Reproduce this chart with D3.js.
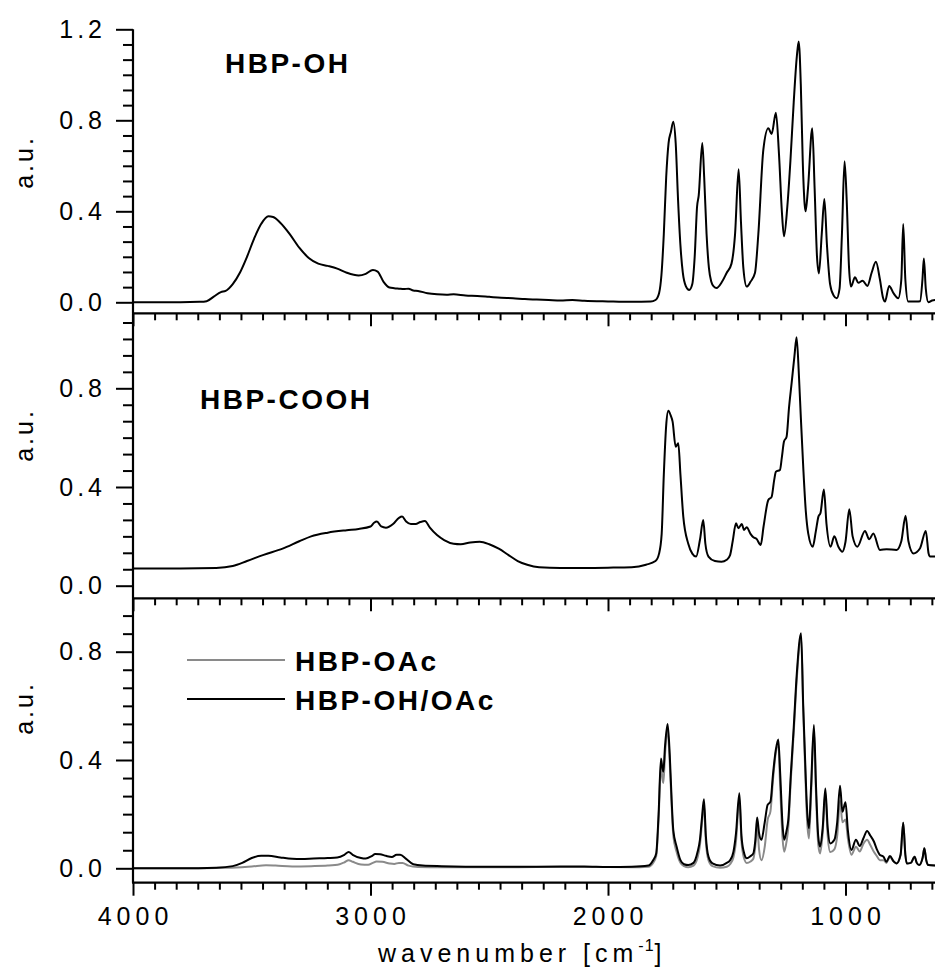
<!DOCTYPE html>
<html>
<head>
<meta charset="utf-8">
<script src="https://cdn.jsdelivr.net/npm/d3@7"></script>
<style>
  html, body { margin: 0; padding: 0; background: #fff; }
  svg { display: block; }
</style>
</head>
<body>
<svg id="chart" width="935" height="976"></svg>
<script>
// ---------------- DATA ----------------
// x-axis ticks
const xMajorTicks = [4000, 3000, 2000, 1000];
const xTickLabels = ["4000", "3000", "2000", "1000"];
// y ticks per panel
const yTicksTop = [0.0, 0.4, 0.8, 1.2];
const yTicksMid = [0.0, 0.4, 0.8];
const yTicksBot = [0.0, 0.4, 0.8];

const panelLabels = ["HBP-OH", "HBP-COOH"];
const legendLabels = ["HBP-OAc", "HBP-OH/OAc"];

// [wavenumber, absorbance]
const hbpOH = [
  [4000,0.0],[3900,0.0],[3800,0.0],[3720,0.002],[3690,0.005],[3660,0.025],[3630,0.045],[3610,0.05],
  [3580,0.08],[3550,0.13],[3520,0.2],[3490,0.28],[3460,0.345],[3430,0.378],[3410,0.375],[3380,0.35],
  [3340,0.3],[3300,0.24],[3260,0.195],[3220,0.17],[3180,0.16],[3140,0.148],[3100,0.13],[3050,0.118],
  [3020,0.125],[2990,0.142],[2970,0.135],[2945,0.09],[2920,0.065],[2900,0.062],[2880,0.06],[2860,0.058],
  [2840,0.06],[2820,0.052],[2800,0.05],[2760,0.04],[2720,0.035],[2680,0.033],[2650,0.035],[2600,0.03],
  [2550,0.028],[2500,0.024],[2450,0.02],[2400,0.018],[2350,0.014],[2300,0.012],[2250,0.01],[2200,0.008],
  [2150,0.01],[2100,0.007],[2000,0.004],[1900,0.002],[1820,0.003],[1800,0.01],[1785,0.04],[1775,0.12],
  [1765,0.3],[1755,0.55],[1745,0.7],[1735,0.75],[1725,0.794],[1715,0.7],[1705,0.45],[1695,0.25],
  [1685,0.13],[1672,0.07],[1658,0.054],[1645,0.08],[1635,0.2],[1625,0.42],[1618,0.47],[1603,0.70],
  [1595,0.55],[1585,0.3],[1575,0.15],[1565,0.09],[1555,0.07],[1543,0.063],[1520,0.09],[1500,0.13],
  [1480,0.17],[1465,0.3],[1450,0.585],[1440,0.35],[1430,0.15],[1416,0.069],[1400,0.09],[1381,0.13],
  [1367,0.30],[1346,0.67],[1325,0.765],[1311,0.74],[1293,0.833],[1280,0.65],[1268,0.4],[1259,0.29],
  [1245,0.42],[1232,0.62],[1218,0.88],[1205,1.08],[1197,1.146],[1188,0.95],[1180,0.62],[1172,0.43],
  [1168,0.40],[1158,0.5],[1140,0.765],[1130,0.5],[1120,0.2],[1112,0.127],[1100,0.3],[1089,0.454],
  [1078,0.25],[1065,0.08],[1050,0.03],[1037,0.018],[1025,0.06],[1015,0.3],[1004,0.62],[995,0.45],
  [985,0.15],[977,0.069],[960,0.11],[946,0.086],[928,0.095],[908,0.072],[890,0.13],[872,0.178],
  [855,0.1],[842,0.02],[834,0.003],[816,0.072],[798,0.04],[778,0.018],[765,0.1],[757,0.344],
  [748,0.1],[736,0.003],[700,0.003],[686,0.005],[676,0.1],[670,0.193],[662,0.06],[651,0.0],
  [635,0.008],[620,0.01]
];

const hbpCOOH = [
  [4000,0.07],[3800,0.07],[3650,0.072],[3580,0.08],[3520,0.1],[3450,0.125],[3370,0.15],[3300,0.18],
  [3250,0.2],[3180,0.215],[3100,0.225],[3050,0.23],[3000,0.24],[2985,0.255],[2973,0.26],[2955,0.24],
  [2935,0.235],[2905,0.25],[2880,0.275],[2867,0.28],[2850,0.26],[2830,0.25],[2810,0.25],[2790,0.258],
  [2771,0.262],[2750,0.235],[2720,0.205],[2690,0.185],[2650,0.17],[2620,0.168],[2580,0.175],[2540,0.178],
  [2500,0.168],[2460,0.15],[2420,0.125],[2380,0.1],[2340,0.085],[2290,0.075],[2200,0.072],[2100,0.072],
  [2000,0.073],[1900,0.075],[1840,0.085],[1800,0.1],[1785,0.13],[1774,0.21],[1765,0.45],[1755,0.65],
  [1746,0.709],[1736,0.69],[1728,0.665],[1715,0.563],[1704,0.577],[1695,0.45],[1683,0.28],[1662,0.17],
  [1645,0.13],[1629,0.118],[1613,0.185],[1599,0.266],[1590,0.17],[1577,0.118],[1550,0.1],[1522,0.097],
  [1500,0.105],[1486,0.124],[1475,0.18],[1461,0.253],[1451,0.233],[1437,0.25],[1427,0.226],[1416,0.237],
  [1400,0.21],[1388,0.196],[1375,0.19],[1357,0.165],[1345,0.24],[1325,0.347],[1311,0.36],[1300,0.43],
  [1293,0.462],[1276,0.469],[1268,0.52],[1259,0.584],[1248,0.604],[1238,0.72],[1227,0.82],[1215,0.93],
  [1206,1.007],[1196,0.85],[1188,0.68],[1178,0.482],[1167,0.3],[1157,0.212],[1138,0.158],[1125,0.22],
  [1114,0.28],[1105,0.296],[1091,0.39],[1080,0.25],[1063,0.158],[1047,0.2],[1030,0.158],[1013,0.138],
  [1000,0.178],[984,0.31],[970,0.2],[950,0.158],[918,0.222],[900,0.188],[883,0.212],[855,0.145],
  [827,0.148],[785,0.145],[765,0.18],[747,0.283],[735,0.18],[714,0.131],[686,0.152],[662,0.222],
  [650,0.13],[644,0.118],[620,0.118]
];

const hbpOHOAc = [
  [4000,0.0],[3800,0.0],[3650,0.002],[3580,0.008],[3540,0.02],[3500,0.038],[3460,0.046],[3430,0.046],
  [3380,0.04],[3330,0.035],[3290,0.034],[3240,0.036],[3180,0.038],[3140,0.04],[3110,0.05],[3092,0.06],
  [3075,0.05],[3040,0.038],[3020,0.036],[2995,0.045],[2980,0.053],[2960,0.052],[2935,0.046],[2910,0.042],
  [2890,0.05],[2875,0.05],[2850,0.035],[2820,0.015],[2780,0.01],[2700,0.008],[2500,0.006],[2300,0.006],
  [2100,0.007],[2000,0.005],[1900,0.006],[1830,0.01],[1810,0.03],[1797,0.055],[1787,0.2],[1777,0.406],
  [1771,0.37],[1767,0.357],[1760,0.45],[1749,0.533],[1740,0.42],[1732,0.252],[1725,0.14],[1711,0.08],
  [1695,0.03],[1680,0.015],[1662,0.012],[1640,0.02],[1623,0.06],[1613,0.105],[1605,0.18],[1596,0.255],
  [1588,0.12],[1577,0.043],[1560,0.018],[1528,0.01],[1500,0.02],[1486,0.03],[1472,0.06],[1461,0.13],
  [1447,0.277],[1438,0.12],[1428,0.06],[1416,0.037],[1400,0.045],[1388,0.055],[1380,0.1],[1372,0.188],
  [1364,0.13],[1354,0.105],[1340,0.17],[1328,0.234],[1316,0.246],[1305,0.35],[1293,0.44],[1283,0.476],
  [1275,0.35],[1265,0.16],[1258,0.105],[1248,0.14],[1241,0.178],[1230,0.35],[1218,0.52],[1205,0.72],
  [1187,0.868],[1178,0.6],[1170,0.4],[1162,0.22],[1154,0.148],[1145,0.3],[1133,0.529],[1124,0.3],
  [1115,0.12],[1107,0.08],[1096,0.15],[1085,0.295],[1075,0.15],[1064,0.092],[1047,0.105],[1035,0.17],
  [1023,0.305],[1013,0.209],[1000,0.244],[990,0.14],[975,0.068],[956,0.105],[940,0.082],[925,0.11],
  [909,0.138],[895,0.12],[880,0.098],[868,0.07],[855,0.049],[840,0.043],[828,0.024],[813,0.045],
  [797,0.025],[785,0.018],[768,0.05],[757,0.168],[748,0.05],[742,0.018],[725,0.02],[709,0.043],
  [700,0.02],[690,0.012],[675,0.04],[668,0.074],[660,0.03],[651,0.012],[620,0.01]
];

const hbpOAc = [
  [4000,0.0],[3800,0.0],[3600,0.002],[3500,0.007],[3440,0.011],[3400,0.01],[3330,0.007],[3250,0.008],
  [3180,0.01],[3130,0.015],[3110,0.022],[3092,0.03],[3075,0.024],[3040,0.014],[3010,0.013],[2990,0.02],
  [2975,0.025],[2950,0.024],[2920,0.018],[2900,0.016],[2880,0.02],[2865,0.02],[2840,0.01],[2800,0.005],
  [2700,0.004],[2500,0.004],[2100,0.005],[1900,0.004],[1830,0.006],[1810,0.02],[1797,0.045],[1787,0.18],
  [1777,0.385],[1771,0.33],[1767,0.315],[1760,0.42],[1749,0.505],[1740,0.39],[1732,0.23],[1725,0.12],
  [1711,0.06],[1695,0.02],[1680,0.008],[1662,0.004],[1640,0.01],[1623,0.04],[1613,0.085],[1605,0.16],
  [1596,0.235],[1588,0.1],[1577,0.03],[1560,0.008],[1528,0.002],[1500,0.006],[1486,0.015],[1472,0.04],
  [1461,0.1],[1447,0.26],[1438,0.1],[1428,0.04],[1416,0.02],[1400,0.025],[1388,0.035],[1380,0.08],
  [1372,0.16],[1364,0.07],[1354,0.03],[1340,0.08],[1328,0.178],[1316,0.21],[1305,0.33],[1293,0.43],
  [1283,0.46],[1275,0.3],[1265,0.11],[1258,0.061],[1248,0.1],[1241,0.15],[1230,0.33],[1218,0.5],
  [1205,0.7],[1187,0.855],[1178,0.58],[1170,0.37],[1162,0.18],[1154,0.11],[1145,0.27],[1133,0.51],
  [1124,0.27],[1115,0.09],[1107,0.055],[1096,0.13],[1085,0.28],[1075,0.12],[1064,0.06],[1047,0.07],
  [1035,0.12],[1023,0.25],[1013,0.17],[1000,0.18],[990,0.11],[975,0.05],[956,0.08],[940,0.062],
  [925,0.09],[909,0.105],[895,0.085],[880,0.06],[868,0.045],[855,0.03],[840,0.03],[828,0.02],
  [813,0.042],[797,0.025],[785,0.018],[768,0.05],[757,0.168],[748,0.05],[742,0.018],[725,0.02],
  [709,0.043],[700,0.02],[690,0.012],[675,0.04],[668,0.074],[660,0.03],[651,0.012],[620,0.01]
];

// ---------------- LAYOUT ----------------
const FONT = "'Liberation Sans', Arial, Helvetica, sans-serif";
const svg = d3.select("#chart");
svg.append("rect").attr("width", 935).attr("height", 976).attr("fill", "#fff");

const x = d3.scaleLinear().domain([4000, 600]).range([133, 133 + 3400 * 0.2375]);
const xMinor = d3.range(1, 40).map(k => 4000 - k * 1000 / 11)
  .filter((v, i) => (i + 1) % 11 !== 0 && v >= 615);

const panels = [
  { series: [{data: hbpOH, color: "#000"}], ticks: yTicksTop, domain: [0, 1.2], range: [302.3, 29.3], top: 29.3, bottom: 313.3, ylabelY: 162 },
  { series: [{data: hbpCOOH, color: "#000"}], ticks: yTicksMid, domain: [0, 0.8], range: [585.7, 388.3], top: 313.3, bottom: 598.3, ylabelY: 435 },
  { series: [{data: hbpOAc, color: "#8a8a8a"}, {data: hbpOHOAc, color: "#000"}], ticks: yTicksBot, domain: [0, 0.8], range: [868.3, 651.7], top: 598.3, bottom: 882.7, ylabelY: 708 }
];

panels.forEach((p, pi) => {
  const y = d3.scaleLinear().domain(p.domain).range(p.range);
  const g = svg.append("g");

  // curves
  const line = d3.line().x(d => x(d[0])).y(d => y(d[1])).curve(d3.curveMonotoneX);
  p.series.forEach(s => {
    g.append("path").datum(s.data).attr("d", line)
      .attr("fill", "none").attr("stroke", s.color).attr("stroke-width", 2)
      .attr("stroke-linejoin", "round");
  });

  // y minor ticks
  const step = 0.4 / 6;
  const yMinor = [];
  for (let k = 1; y(k * step) >= p.top - 0.5; k++) { if (k % 6 !== 0) yMinor.push(k * step); }
  const yAxisMinor = g.append("g").attr("transform", "translate(" + x(4000) + ",0)")
    .call(d3.axisLeft(y).tickValues(yMinor).tickSize(10).tickFormat(""));
  const yAxisMajor = g.append("g").attr("transform", "translate(" + x(4000) + ",0)")
    .call(d3.axisLeft(y).tickValues(p.ticks).tickSize(17).tickPadding(10).tickFormat(d3.format(".1f")));
  [yAxisMinor, yAxisMajor].forEach(a => {
    a.select(".domain").remove();
    a.selectAll("line").attr("stroke", "#000").attr("stroke-width", 2);
  });
  yAxisMajor.selectAll("text").attr("font-family", FONT).attr("font-size", 25)
    .attr("letter-spacing", 4).attr("fill", "#000");
  // y axis line
  g.append("line").attr("x1", x(4000)).attr("x2", x(4000)).attr("y1", p.top).attr("y2", p.bottom)
    .attr("stroke", "#000").attr("stroke-width", 2.2);

  // x axis
  const xAxisMinor = g.append("g").attr("transform", "translate(0," + p.bottom + ")")
    .call(d3.axisBottom(x).tickValues(xMinor).tickSize(7).tickFormat(""));
  const xAxisMajor = g.append("g").attr("transform", "translate(0," + p.bottom + ")")
    .call(d3.axisBottom(x).tickValues(xMajorTicks).tickSize(13).tickPadding(12)
      .tickFormat((d, i) => pi === 2 ? xTickLabels[i] : ""));
  [xAxisMinor, xAxisMajor].forEach(a => {
    a.select(".domain").remove();
    a.selectAll("line").attr("stroke", "#000").attr("stroke-width", 2);
  });
  xAxisMajor.selectAll("text").attr("font-family", FONT).attr("font-size", 25)
    .attr("letter-spacing", 5).attr("fill", "#000").attr("dx", 2);
  g.append("line").attr("x1", x(4000) - 1).attr("x2", 935).attr("y1", p.bottom).attr("y2", p.bottom)
    .attr("stroke", "#000").attr("stroke-width", 2.2);

  // y label
  svg.append("text").attr("transform", "translate(33," + p.ylabelY + ") rotate(-90)")
    .attr("text-anchor", "middle").attr("font-family", FONT).attr("font-size", 25)
    .attr("letter-spacing", 3).text("a.u.");
});

// panel labels
svg.append("text").attr("x", 225).attr("y", 73).attr("font-family", FONT).attr("font-weight", "bold")
  .attr("font-size", 28).attr("letter-spacing", 2.5).text(panelLabels[0]);
svg.append("text").attr("x", 200).attr("y", 409).attr("font-family", FONT).attr("font-weight", "bold")
  .attr("font-size", 28).attr("letter-spacing", 2.5).text(panelLabels[1]);

// legend
const legendColors = ["#8a8a8a", "#000"];
const legendY = [660, 699];
legendLabels.forEach((lab, i) => {
  svg.append("line").attr("x1", 187).attr("x2", 285).attr("y1", legendY[i]).attr("y2", legendY[i])
    .attr("stroke", legendColors[i]).attr("stroke-width", 2);
  svg.append("text").attr("x", 295).attr("y", legendY[i] + 11).attr("font-family", FONT)
    .attr("font-weight", "bold").attr("font-size", 28).attr("letter-spacing", 2.5).text(lab);
});

// x axis title
const xt = svg.append("text").attr("x", 378).attr("y", 962).attr("font-family", FONT)
  .attr("font-size", 25).attr("letter-spacing", 5);
xt.append("tspan").text("wavenumber [cm");
xt.append("tspan").attr("font-size", 16).attr("dy", -11).attr("letter-spacing", 1).text("-1");
xt.append("tspan").attr("dy", 11).text("]");
</script>
</body>
</html>
